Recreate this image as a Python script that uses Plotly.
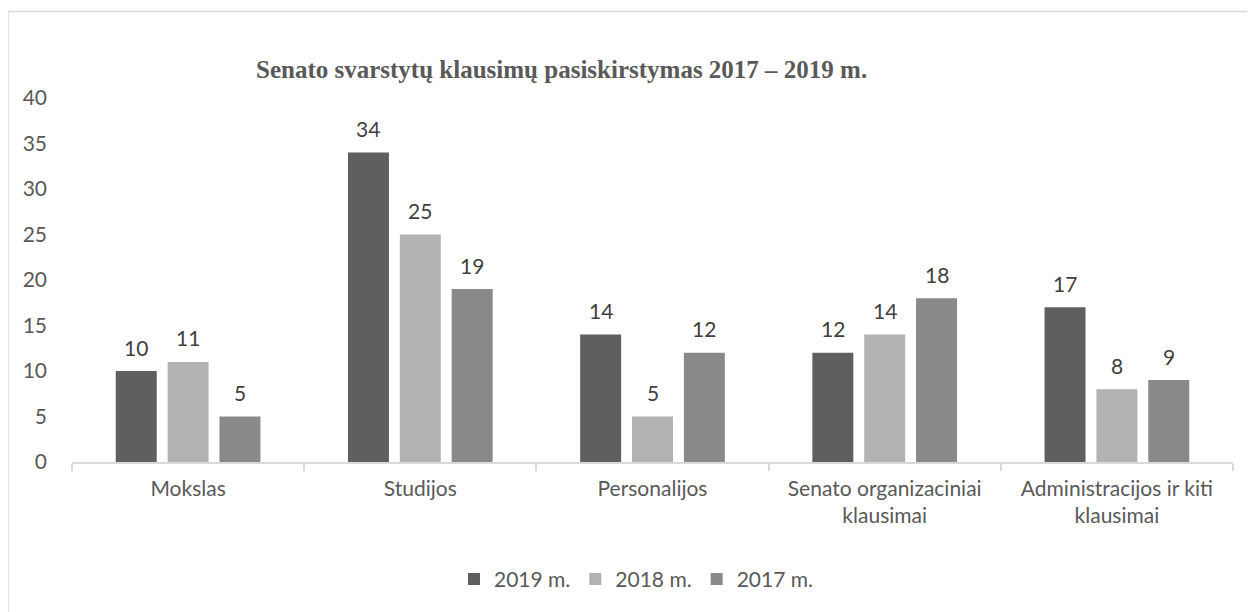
import plotly.graph_objects as go

categories = ["Mokslas", "Studijos", "Personalijos",
              "Senato organizaciniai<br>klausimai", "Administracijos ir kiti<br>klausimai"]
series_names = ["2019 m.", "2018 m.", "2017 m."]
v2019 = [10, 34, 14, 12, 17]
v2018 = [11, 25, 5, 14, 8]
v2017 = [5, 19, 12, 18, 9]
series_values = [v2019, v2018, v2017]
colors = ["#5f5f5f", "#b2b2b2", "#898989"]
y_ticks = [0, 5, 10, 15, 20, 25, 30, 35, 40]
title_text = "Senato svarstytų klausimų pasiskirstymas 2017 – 2019 m."

# page has an 8px body margin; coordinates below are in figure pixels
OFF = 8
W, H = 1255 - OFF, 612 - OFF
L = 72 - OFF
R = W - (1233 - OFF)
T = 98 - OFF
B = H - (464 - OFF)
pw, ph = W - L - R, H - T - B
BARGAP, GROUPGAP = 0.33, 0.21
FS = 21

def px_x(x):  # page x -> paper
    return (x - OFF - L) / pw

def px_y(y):  # page y -> paper
    return (H - B - (y - OFF)) / ph

fig = go.Figure()
for name, vals, col in zip(series_names, series_values, colors):
    fig.add_trace(go.Bar(
        x=categories, y=vals, name=name, marker=dict(color=col, line=dict(width=0)),
    ))

# data labels above bars
slot = (pw / len(categories)) * (1 - BARGAP) / len(series_names)
for i, vals in enumerate(series_values):
    for c, v in zip(categories, vals):
        fig.add_annotation(x=c, y=v, text=str(v), showarrow=False,
                           xshift=(i - 1) * slot, yshift=24, yanchor="middle",
                           font=dict(family="Lato", size=FS, color="#404040"))

fig.update_layout(
    width=W, height=H,
    margin=dict(l=L, r=R, t=T, b=B),
    paper_bgcolor="white", plot_bgcolor="white",
    barmode="group", bargap=BARGAP, bargroupgap=GROUPGAP,
    font=dict(family="Lato", size=FS, color="#595959"),
    showlegend=True,
    legend=dict(orientation="h", x=px_x(636), xanchor="center",
                y=px_y(582), yanchor="middle",
                font=dict(family="Lato", size=FS, color="#595959"),
                itemwidth=30, traceorder="normal"),
)
fig.add_annotation(text="<b>" + title_text + "</b>", xref="paper", yref="paper",
                   x=px_x(561), y=px_y(69), xanchor="center", yanchor="middle",
                   showarrow=False, font=dict(family="Liberation Serif", size=25, color="#595959"))
fig.update_xaxes(showline=True, linecolor="#d9d9d9", linewidth=1.5,
                 ticks="outside", tickson="boundaries", ticklen=7, tickcolor="#d9d9d9", tickwidth=1.5,
                 ticklabelstandoff=7,
                 showgrid=False, tickfont=dict(family="Lato", size=FS, color="#595959"))
fig.update_yaxes(range=[0, 40], tickvals=y_ticks, showgrid=False, zeroline=False, showline=False,
                 ticklabelstandoff=24, tickfont=dict(family="Lato", size=FS, color="#595959"))
fig.add_shape(type="rect", xref="paper", yref="paper",
              x0=px_x(8), x1=px_x(1290),
              y0=px_y(660), y1=px_y(11),
              line=dict(color="#d9d9d9", width=1.5), fillcolor="rgba(0,0,0,0)", layer="below")
fig.write_html("out.html")
